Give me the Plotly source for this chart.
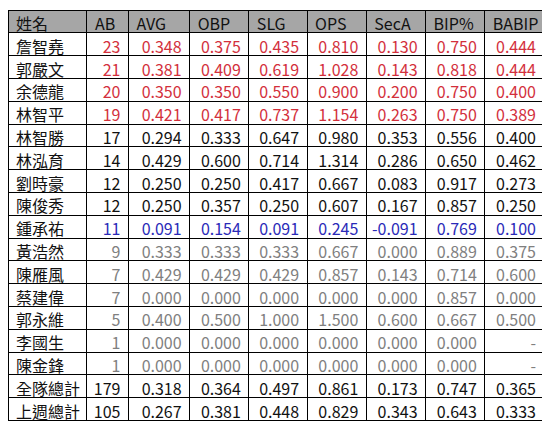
import plotly.graph_objects as go

headers = ["姓名","AB","AVG","OBP","SLG","OPS","SecA","BIP%","BABIP"]
names = ["詹智堯","郭嚴文","余德龍","林智平","林智勝","林泓育","劉時豪","陳俊秀","鍾承祐","黃浩然","陳雁風","蔡建偉","郭永維","李國生","陳金鋒","全隊總計","上週總計"]
ab = ["23","21","20","19","17","14","12","12","11","9","7","7","5","1","1","179","105"]
avg = ["0.348","0.381","0.350","0.421","0.294","0.429","0.250","0.250","0.091","0.333","0.429","0.000","0.400","0.000","0.000","0.318","0.267"]
obp = ["0.375","0.409","0.350","0.417","0.333","0.600","0.250","0.357","0.154","0.333","0.429","0.000","0.500","0.000","0.000","0.364","0.381"]
slg = ["0.435","0.619","0.550","0.737","0.647","0.714","0.417","0.250","0.091","0.333","0.429","0.000","1.000","0.000","0.000","0.497","0.448"]
ops = ["0.810","1.028","0.900","1.154","0.980","1.314","0.667","0.607","0.245","0.667","0.857","0.000","1.500","0.000","0.000","0.861","0.829"]
seca = ["0.130","0.143","0.200","0.263","0.353","0.286","0.083","0.167","-0.091","0.000","0.143","0.000","0.600","0.000","0.000","0.173","0.343"]
bip = ["0.750","0.818","0.750","0.750","0.556","0.650","0.917","0.857","0.769","0.889","0.714","0.857","0.667","0.000","0.000","0.747","0.643"]
babip = ["0.444","0.444","0.400","0.389","0.400","0.462","0.273","0.250","0.100","0.375","0.600","0.000","0.500","-","-","0.365","0.333"]
row_group = ["r","r","r","r","k","k","k","k","b","g","g","g","g","g","g","k","k"]

cmap = {"r": "#d3303c", "k": "#111111", "b": "#2a2ab8", "g": "#808080"}
row_colors = [cmap[g] for g in row_group]
name_colors = ["#111111"] * len(names)

cols = [names, ab, avg, obp, slg, ops, seca, bip, babip]
widths = [80, 42, 62, 60, 59, 60, 60, 60, 60]
fcolors = [name_colors] + [row_colors] * 8
aligns = ["left"] + ["right"] * 8
H = 22.8
FONT = "Noto Sans CJK TC"

fig = go.Figure(go.Table(
    columnwidth=widths,
    header=dict(values=headers, fill_color="#a6a6a6", line_color="black",
                align="left", height=H,
                font=dict(family=FONT, size=16, color="#111111")),
    cells=dict(values=cols, fill_color="white", line_color="black",
               align=aligns, height=H,
               font=dict(family=FONT, size=16, color=fcolors)),
    domain=dict(x=[0, 0.975], y=[0, 1 - 2/422]),
))
fig.update_layout(width=550, height=422, margin=dict(l=0, r=0, t=0, b=0),
                  paper_bgcolor="white")
fig.write_html("out.html")
